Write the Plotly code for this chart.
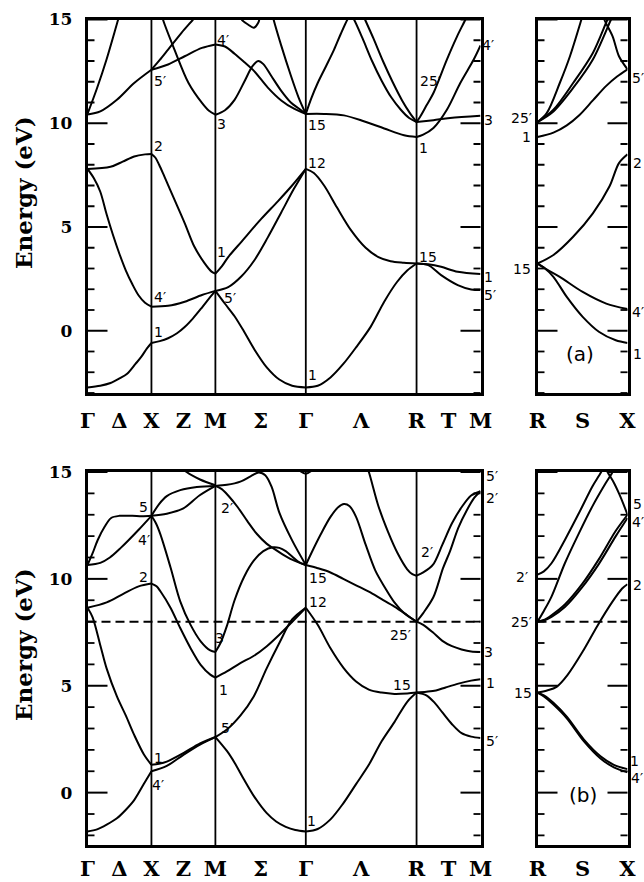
import math
import plotly.graph_objects as go

# ---------------- k-path positions (units of Gamma-X) ----------------
K_MAIN = [0.0, 1.0, 2.0, 3.414, 5.146, 6.146]          # Γ X M Γ R M
K_SIDE = [0.0, 0.707, 1.414]                          # R S X
MAIN_TICK_K = [0.0, 0.5, 1.0, 1.5, 2.0, 2.707, 3.414, 4.28, 5.146, 5.646, 6.146]
MAIN_TICK_TEXT = ["Γ", "Δ", "X", "Z", "M", "Σ", "Γ", "Λ", "R", "T", "M"]
SIDE_TICK_K = [0.0, 0.707, 1.414]
SIDE_TICK_TEXT = ["R", "S", "X"]
VLINES_K = [1.0, 2.0, 3.414, 5.146]
E_MAJOR_STEP = 5
E_MINOR_STEP = 1
E_RANGE_A = [-3.0, 15.0]
E_RANGE_B = [-2.45, 15.0]
E_FERMI_B = 8.0

# ---------------- panel (a) main bands: (k, E) ----------------
a_GX_1 = ([0, 0.2, 0.36, 0.5, 0.62, 0.75, 0.84, 0.93, 1.0], [-2.73, -2.65, -2.52, -2.3, -2.07, -1.6, -1.26, -0.85, -0.59])
a_GX_2 = ([0, 0.1, 0.2, 0.3, 0.4, 0.5, 0.6, 0.7, 0.8, 0.9, 1.0], [7.8, 7.35, 6.7, 5.6, 4.6, 3.7, 2.9, 2.25, 1.7, 1.35, 1.16])
a_GX_3 = ([0, 0.36, 0.55, 0.73, 0.9, 1.0], [7.8, 7.9, 8.15, 8.4, 8.5, 8.52])
a_GX_4 = ([0, 0.2, 0.46, 0.73, 1.0], [10.42, 10.57, 11.13, 11.94, 12.58])
a_GX_5 = ([0, 0.15, 0.3, 0.48, 0.52], [10.45, 11.7, 13.1, 15.0, 15.4])
a_XM_1 = ([1.0, 1.13, 1.26, 1.4, 1.52, 1.65, 1.79, 1.9, 2.0], [-0.59, -0.5, -0.36, -0.12, 0.18, 0.6, 1.12, 1.55, 1.92])
a_XM_2 = ([1.0, 1.26, 1.52, 1.79, 2.0], [1.16, 1.2, 1.4, 1.72, 1.92])
a_XM_3 = ([1.0, 1.06, 1.12, 1.2, 1.36, 1.52, 1.67, 1.83, 1.94, 2.0], [8.52, 8.35, 8.0, 7.45, 6.32, 5.19, 4.06, 3.26, 2.85, 2.75])
a_XM_4 = ([1.0, 1.26, 1.52, 1.79, 2.0], [12.58, 12.83, 13.23, 13.63, 13.8])
a_XM_5 = ([1.0, 1.13, 1.26, 1.47, 1.65, 1.7], [12.58, 13.05, 13.55, 14.36, 15.0, 15.2])
a_XM_6 = ([1.13, 1.18, 1.36, 1.58, 1.79, 1.9, 2.0], [15.6, 15.0, 13.55, 11.94, 10.98, 10.6, 10.41])
a_MG_1 = ([2.0, 2.15, 2.3, 2.45, 2.61, 2.8, 3.0, 3.2, 3.414], [1.92, 1.3, 0.7, -0.05, -0.9, -1.75, -2.35, -2.65, -2.73])
a_MG_2 = ([2.0, 2.2, 2.4, 2.61, 2.82, 3.03, 3.23, 3.414], [1.92, 2.1, 2.6, 3.4, 4.5, 5.7, 6.85, 7.8])
a_MG_3 = ([2.0, 2.1, 2.2, 2.41, 2.72, 2.98, 3.2, 3.414], [2.75, 3.1, 3.55, 4.3, 5.4, 6.25, 7.0, 7.8])
a_MG_4 = ([2.0, 2.15, 2.3, 2.46, 2.58, 2.67, 2.75, 2.87, 3.03, 3.18, 3.31, 3.414], [10.41, 10.63, 11.13, 12.05, 12.75, 13.0, 12.85, 12.3, 11.56, 11.0, 10.7, 10.45])
a_MG_5 = ([2.0, 2.15, 2.3, 2.45, 2.61, 2.82, 3.03, 3.23, 3.414], [13.8, 13.7, 13.35, 12.95, 12.5, 11.72, 11.1, 10.7, 10.45])
a_MG_6 = ([2.88, 2.91, 3.03, 3.18, 3.3, 3.414], [15.4, 15.0, 13.74, 12.3, 11.25, 10.45])
a_MG_7 = ([2.38, 2.41, 2.51, 2.6, 2.67, 2.7], [15.3, 15.0, 14.76, 14.6, 14.84, 15.2])
a_GR_1 = ([3.414, 3.6, 3.8, 4.0, 4.2, 4.43, 4.64, 4.84, 5.0, 5.146], [-2.73, -2.65, -2.25, -1.6, -0.8, 0.2, 1.4, 2.35, 2.9, 3.24])
a_GR_2 = ([3.414, 3.54, 3.7, 3.9, 4.12, 4.35, 4.55, 4.74, 4.95, 5.146], [7.8, 7.6, 7.0, 5.95, 4.85, 4.0, 3.55, 3.35, 3.28, 3.24])
a_GR_3 = ([3.414, 3.7, 4.01, 4.32, 4.64, 4.95, 5.146], [10.45, 10.45, 10.38, 10.1, 9.75, 9.42, 9.34])
a_GR_4 = ([3.414, 3.5, 3.6, 3.73, 3.856, 3.96, 4.065, 4.115, 4.168, 4.3, 4.45, 4.6, 4.75, 4.9, 5.03, 5.146],
          [10.45, 11.2, 11.94, 12.75, 13.55, 14.3, 15.0, 15.25, 15.0, 14.1, 13.0, 12.05, 11.25, 10.65, 10.25, 10.06])
a_GR_5 = ([4.3, 4.34, 4.47, 4.62, 4.77, 4.92, 5.04, 5.146], [15.3, 15.0, 14.1, 13.0, 12.0, 11.1, 10.5, 10.06])
a_RM_1 = ([5.146, 5.33, 5.53, 5.79, 6.146], [3.24, 3.2, 3.08, 2.84, 2.73])
a_RM_2 = ([5.146, 5.33, 5.53, 5.79, 6.0, 6.146], [3.24, 3.16, 2.68, 2.2, 1.99, 1.96])
a_RM_3 = ([5.146, 5.25, 5.41, 5.62, 5.83, 6.04, 6.146], [9.34, 9.45, 9.77, 10.65, 11.94, 13.07, 13.75])
a_RM_4 = ([5.146, 5.41, 5.67, 6.146], [10.06, 10.15, 10.25, 10.36])
a_RM_5 = ([5.146, 5.2, 5.3, 5.41, 5.62, 5.78, 5.91, 5.95], [10.06, 10.3, 10.85, 11.46, 13.07, 14.19, 15.0, 15.3])

# ---------------- panel (a) side bands (R-S-X) ----------------
as_1 = ([0, 0.25, 0.46, 0.66, 0.87, 1.08, 1.25, 1.414], [9.34, 9.55, 9.9, 10.4, 11.1, 11.8, 12.25, 12.6])
as_2 = ([0, 0.145, 0.35, 0.51, 0.69, 0.73], [10.06, 10.49, 11.94, 13.23, 15.0, 15.4])
as_3 = ([0, 0.25, 0.56, 0.87, 1.1, 1.15], [10.06, 10.65, 11.94, 13.39, 15.0, 15.3])
as_4 = ([0, 0.25, 0.56, 0.87, 1.155, 1.2], [10.06, 10.57, 11.7, 13.07, 15.0, 15.3])
as_5 = ([1.03, 1.05, 1.18, 1.28, 1.414], [15.3, 15.0, 14.19, 13.23, 12.6])
as_6 = ([0, 0.25, 0.56, 0.87, 1.13, 1.28, 1.414], [3.24, 3.65, 4.53, 5.66, 6.95, 8.08, 8.5])
as_7 = ([0, 0.15, 0.35, 0.71, 1.08, 1.414], [3.24, 2.95, 2.6, 1.87, 1.31, 1.05])
as_8 = ([0, 0.1, 0.25, 0.46, 0.71, 0.97, 1.23, 1.414], [3.24, 3.05, 2.6, 1.63, 0.67, -0.06, -0.46, -0.59])

# ---------------- panel (b) main bands ----------------
b_GX_1 = ([0, 0.15, 0.3, 0.46, 0.6, 0.73, 0.88, 1.0], [-1.82, -1.72, -1.5, -1.2, -0.8, -0.35, 0.4, 1.0])
b_GX_2 = ([0, 0.08, 0.2, 0.3, 0.46, 0.6, 0.73, 0.88, 1.0], [8.65, 8.2, 6.9, 5.8, 4.5, 3.6, 2.7, 1.8, 1.3])
b_GX_3 = ([0, 0.3, 0.56, 0.8, 1.0], [8.65, 8.9, 9.3, 9.65, 9.78])
b_GX_4 = ([0, 0.2, 0.35, 0.52, 0.8, 1.0], [10.65, 10.75, 11.0, 11.45, 12.3, 12.95])
b_GX_5 = ([0, 0.08, 0.16, 0.27, 0.37, 0.5, 0.7, 0.85, 1.0], [10.65, 11.2, 11.82, 12.45, 12.85, 12.95, 12.95, 12.93, 12.95])
b_XM_1 = ([1.0, 1.24, 1.5, 1.76, 2.0], [1.0, 1.25, 1.77, 2.25, 2.6])
b_XM_2 = ([1.0, 1.12, 1.24, 1.5, 1.76, 2.0], [1.3, 1.35, 1.45, 1.85, 2.3, 2.6])
b_XM_3 = ([1.0, 1.08, 1.14, 1.3, 1.45, 1.61, 1.77, 1.92, 2.0], [9.78, 9.65, 9.42, 8.64, 7.7, 6.77, 5.98, 5.52, 5.38])
b_XM_4 = ([1.0, 1.07, 1.14, 1.3, 1.45, 1.61, 1.77, 1.92, 2.0], [12.95, 12.6, 12.08, 10.52, 8.95, 7.86, 7.08, 6.65, 6.58])
b_XM_5 = ([1.0, 1.12, 1.24, 1.45, 1.71, 2.0], [12.95, 13.5, 13.87, 14.15, 14.3, 14.35])
b_XM_6 = ([1.0, 1.24, 1.5, 1.75, 2.0], [12.95, 13.05, 13.3, 13.9, 14.35])
b_XM_7 = ([1.45, 1.55, 1.76, 2.0], [15.3, 15.0, 14.65, 14.38])
b_MG_1 = ([2.0, 2.18, 2.3, 2.45, 2.61, 2.8, 2.95, 3.1, 3.25, 3.414], [2.6, 1.95, 1.4, 0.6, -0.2, -0.95, -1.35, -1.6, -1.75, -1.82])
b_MG_2 = ([2.0, 2.18, 2.39, 2.6, 2.8, 3.0, 3.2, 3.414], [2.6, 2.95, 3.6, 4.5, 5.8, 7.0, 8.1, 8.65])
b_MG_3 = ([2.0, 2.18, 2.39, 2.59, 2.8, 3.0, 3.21, 3.414], [5.38, 5.67, 6.06, 6.38, 6.84, 7.39, 8.02, 8.65])
b_MG_4 = ([2.0, 2.08, 2.18, 2.3, 2.45, 2.6, 2.75, 2.9, 3.0, 3.1, 3.2, 3.3, 3.414], [6.58, 7.0, 7.8, 9.0, 10.1, 10.85, 11.3, 11.48, 11.45, 11.3, 11.05, 10.8, 10.65])
b_MG_5 = ([2.0, 2.1, 2.2, 2.35, 2.5, 2.65, 2.8, 2.92, 3.05, 3.2, 3.414], [14.35, 14.2, 13.9, 13.35, 12.7, 12.1, 11.65, 11.4, 11.15, 10.9, 10.65])
b_MG_6 = ([2.0, 2.18, 2.39, 2.55, 2.68, 2.78, 2.88, 3.0, 3.2, 3.414], [14.35, 14.4, 14.55, 14.8, 14.98, 14.85, 14.3, 13.1, 11.8, 10.65])
b_MG_7 = ([3.3, 3.414, 3.52], [15.1, 14.92, 15.1])
b_GR_1 = ([3.414, 3.6, 3.8, 4.0, 4.2, 4.4, 4.6, 4.8, 5.0, 5.146], [-1.82, -1.7, -1.25, -0.5, 0.4, 1.3, 2.4, 3.3, 4.25, 4.68])
b_GR_2 = ([3.414, 3.6, 3.8, 4.0, 4.2, 4.4, 4.6, 4.8, 5.0, 5.146], [8.65, 7.85, 6.75, 5.85, 5.2, 4.82, 4.68, 4.62, 4.64, 4.68])
b_GR_3 = ([3.414, 3.6, 3.8, 4.0, 4.2, 4.4, 4.6, 4.8, 5.0, 5.146], [10.65, 10.5, 10.3, 10.0, 9.7, 9.4, 9.05, 8.7, 8.3, 8.0])
b_GR_4 = ([3.414, 3.5, 3.65, 3.8, 3.92, 4.01, 4.1, 4.2, 4.35, 4.5, 4.65, 4.8, 4.95, 5.146],
          [10.65, 11.2, 12.1, 12.9, 13.35, 13.5, 13.4, 12.9, 11.6, 10.4, 9.6, 8.9, 8.4, 8.0])
b_GR_5 = ([4.35, 4.4, 4.55, 4.7, 4.85, 5.0, 5.08, 5.146], [15.4, 15.0, 13.4, 12.2, 11.2, 10.45, 10.22, 10.15])
b_RM_1 = ([5.146, 5.25, 5.4, 5.55, 5.7, 5.85, 6.0, 6.146], [10.15, 10.3, 10.65, 11.6, 12.6, 13.35, 13.9, 14.1])
b_RM_2 = ([5.146, 5.25, 5.41, 5.56, 5.67, 5.8, 5.93, 6.05, 6.146], [8.0, 8.4, 9.15, 10.5, 11.3, 12.4, 13.2, 13.8, 14.1])
b_RM_3 = ([5.146, 5.25, 5.4, 5.55, 5.7, 5.85, 6.0, 6.146], [8.0, 7.85, 7.5, 7.1, 6.85, 6.7, 6.6, 6.58])
b_RM_4 = ([5.146, 5.3, 5.45, 5.6, 5.8, 6.0, 6.146], [4.68, 4.72, 4.78, 4.92, 5.1, 5.24, 5.3])
b_RM_5 = ([5.146, 5.3, 5.43, 5.55, 5.7, 5.85, 6.0, 6.146], [4.68, 4.55, 4.2, 3.75, 3.2, 2.78, 2.62, 2.56])

# ---------------- panel (b) side bands ----------------
bs_1 = ([0, 0.1, 0.25, 0.46, 0.73, 0.99, 1.2, 1.414], [4.68, 4.55, 4.2, 3.55, 2.48, 1.7, 1.3, 1.1])
bs_2 = ([0, 0.1, 0.25, 0.46, 0.73, 0.99, 1.2, 1.414], [4.68, 4.5, 4.12, 3.48, 2.4, 1.6, 1.18, 0.95])
bs_3 = ([0, 0.15, 0.3, 0.47, 0.71, 0.94, 1.17, 1.33, 1.414], [4.68, 4.78, 4.95, 5.5, 6.6, 7.8, 8.9, 9.55, 9.75])
bs_4 = ([0, 0.1, 0.22, 0.43, 0.7, 0.96, 1.23, 1.414], [8.0, 8.05, 8.22, 8.68, 9.6, 10.68, 12.0, 12.85])
bs_5 = ([0, 0.1, 0.22, 0.43, 0.7, 0.96, 1.23, 1.414], [8.0, 8.08, 8.3, 8.8, 9.75, 10.9, 12.25, 13.0])
bs_6 = ([0, 0.1, 0.22, 0.43, 0.65, 0.86, 1.07, 1.18, 1.22], [8.0, 8.5, 9.17, 10.73, 12.13, 13.38, 14.47, 15.0, 15.3])
bs_7 = ([0, 0.1, 0.22, 0.43, 0.65, 0.86, 0.96, 1.0, 1.03], [10.2, 10.35, 10.73, 11.82, 13.07, 14.31, 14.8, 15.0, 15.2])
bs_8 = ([1.05, 1.1, 1.2, 1.28, 1.35, 1.414], [15.3, 15.0, 14.5, 14.0, 13.5, 13.0])

# ---------------- symmetry labels: (text, k, E) ----------------
labels_a_main = [
    ("1", 1.11, -0.06), ("4′", 1.14, 1.63), ("5′", 1.13, 12.05), ("2", 1.11, 8.88),
    ("4′", 2.12, 14.03), ("3", 2.10, 9.98), ("1", 2.10, 3.81), ("5′", 2.23, 1.56),
    ("15", 3.59, 9.93), ("12", 3.59, 8.08), ("1", 3.52, -2.15),
    ("15", 5.33, 3.57), ("25′", 5.36, 12.02), ("1", 5.25, 8.8),
    ("4′", 6.27, 13.79), ("3", 6.27, 10.17), ("1", 6.27, 2.6), ("5′", 6.30, 1.71),
]
labels_a_side = [
    ("25′", -0.25, 10.25), ("1", -0.17, 9.36), ("15", -0.25, 3.0),
    ("5′", 1.585, 12.18), ("2", 1.57, 8.08), ("4′", 1.585, 0.91), ("1", 1.57, -1.1),
]
labels_b_main = [
    ("5", 0.87, 13.38), ("4′", 0.88, 11.82), ("2", 0.87, 10.1), ("1", 1.11, 1.62), ("4′", 1.11, 0.37),
    ("2′", 2.18, 13.3), ("3", 2.06, 7.24), ("1", 2.13, 4.81), ("5′", 2.18, 3.02),
    ("15", 3.61, 10.05), ("12", 3.61, 8.94), ("1", 3.51, -1.34),
    ("2′", 5.31, 11.28), ("25′", 4.89, 7.38), ("15", 4.92, 5.05),
    ("5′", 6.32, 14.8), ("2′", 6.32, 13.8), ("3", 6.27, 6.6), ("1", 6.30, 5.13), ("5′", 6.32, 2.4),
]
labels_b_side = [
    ("2′", -0.25, 10.1), ("25′", -0.25, 8.0), ("15", -0.23, 4.66),
    ("5", 1.565, 13.5), ("4′", 1.58, 12.68), ("2", 1.565, 9.72), ("1", 1.53, 1.48), ("4′", 1.56, 0.68),
]
panel_tags = [("(a)", 0.67, -1.1), ("(b)", 0.715, -0.09)]

bands_a_main = [a_GX_1, a_GX_2, a_GX_3, a_GX_4, a_GX_5, a_XM_1, a_XM_2, a_XM_3, a_XM_4, a_XM_5, a_XM_6,
                a_MG_1, a_MG_2, a_MG_3, a_MG_4, a_MG_5, a_MG_6, a_MG_7,
                a_GR_1, a_GR_2, a_GR_3, a_GR_4, a_GR_5, a_RM_1, a_RM_2, a_RM_3, a_RM_4, a_RM_5]
bands_a_side = [as_1, as_2, as_3, as_4, as_5, as_6, as_7, as_8]
bands_b_main = [b_GX_1, b_GX_2, b_GX_3, b_GX_4, b_GX_5, b_XM_1, b_XM_2, b_XM_3, b_XM_4, b_XM_5, b_XM_6, b_XM_7,
                b_MG_1, b_MG_2, b_MG_3, b_MG_4, b_MG_5, b_MG_6, b_MG_7,
                b_GR_1, b_GR_2, b_GR_3, b_GR_4, b_GR_5, b_RM_1, b_RM_2, b_RM_3, b_RM_4, b_RM_5]
bands_b_side = [bs_1, bs_2, bs_3, bs_4, bs_5, bs_6, bs_7, bs_8]

# ---------------- figure ----------------
W, H = 644, 882
fig = go.Figure()

def add_bands(bands, xa, ya):
    for k, e in bands:
        fig.add_trace(go.Scatter(x=k, y=e, mode="lines", xaxis=xa, yaxis=ya,
                                 line=dict(color="black", width=2, shape="spline", smoothing=0.9),
                                 showlegend=False, hoverinfo="skip"))

add_bands(bands_a_main, "x", "y")
add_bands(bands_a_side, "x2", "y2")
add_bands(bands_b_main, "x3", "y3")
add_bands(bands_b_side, "x4", "y4")

# dashed reference line in panel (b)
for xa, ya, ks in (("x3", "y3", K_MAIN), ("x4", "y4", K_SIDE)):
    fig.add_trace(go.Scatter(x=[ks[0], ks[-1]], y=[E_FERMI_B, E_FERMI_B], mode="lines", xaxis=xa, yaxis=ya,
                             line=dict(color="black", width=2, dash="9px,5px"), showlegend=False, hoverinfo="skip"))

# vertical symmetry-point lines
for xr, yr in (("x", "y"), ("x3", "y3")):
    for kv in VLINES_K:
        fig.add_shape(type="line", xref=xr, yref=yr + " domain", x0=kv, x1=kv, y0=0, y1=1,
                      line=dict(color="black", width=1.8))

# inward energy ticks on both sides of every frame (major every 5 eV, minor every 1 eV)
for xa, ya, rng in (("x", "y", E_RANGE_A), ("x2", "y2", E_RANGE_A), ("x3", "y3", E_RANGE_B), ("x4", "y4", E_RANGE_B)):
    for v in range(math.ceil(rng[0]), math.floor(rng[1]) + 1, E_MINOR_STEP):
        major = (v % E_MAJOR_STEP == 0)
        L = 20 if major else 7
        for anchor, sign in ((0, 1), (1, -1)):
            fig.add_shape(type="line", xref=xa + " domain", yref=ya, xsizemode="pixel", xanchor=anchor,
                          x0=0, x1=sign * L, y0=v, y1=v,
                          line=dict(color="black", width=2 if major else 1.8))

px = lambda v: v / W
py = lambda v: 1 - v / H
MAIN_DOM = [px(87.5), px(480.5)]
SIDE_DOM = [px(537.5), px(627.5)]
TOP_DOM = [py(393), py(19.5)]
BOT_DOM = [py(845), py(472)]

tickfont_num = dict(family="DejaVu Serif", size=17, color="black", weight="bold")
tickfont_k = dict(family="DejaVu Serif", size=21, color="black", weight="bold")

def yax(dom, rng, anchor, labels):
    return dict(domain=dom, range=rng, anchor=anchor, tickmode="linear", tick0=0, dtick=E_MAJOR_STEP,
                showticklabels=labels, tickfont=tickfont_num, ticks="",
                showline=True, linewidth=2.5, linecolor="black", mirror=True,
                showgrid=False, zeroline=False, ticklabelstandoff=9, automargin=False, fixedrange=True)

def xax(dom, rng, anchor, vals, text, standoff):
    return dict(domain=dom, range=rng, anchor=anchor, tickmode="array", tickvals=vals, ticktext=text,
                tickfont=tickfont_k, ticks="", showline=True, linewidth=2.5, linecolor="black", mirror=True,
                showgrid=False, zeroline=False, ticklabelstandoff=standoff, automargin=False, fixedrange=True)

fig.update_layout(
    width=W, height=H, margin=dict(l=0, r=0, t=0, b=0, pad=0, autoexpand=False),
    paper_bgcolor="white", plot_bgcolor="white", showlegend=False,
    xaxis=xax(MAIN_DOM, [K_MAIN[0], K_MAIN[-1]], "y", MAIN_TICK_K, MAIN_TICK_TEXT, 7),
    yaxis=yax(TOP_DOM, E_RANGE_A, "x", True),
    xaxis2=xax(SIDE_DOM, [K_SIDE[0], K_SIDE[-1]], "y2", SIDE_TICK_K, SIDE_TICK_TEXT, 7),
    yaxis2=yax(TOP_DOM, E_RANGE_A, "x2", False),
    xaxis3=xax(MAIN_DOM, [K_MAIN[0], K_MAIN[-1]], "y3", MAIN_TICK_K, MAIN_TICK_TEXT, 3),
    yaxis3=yax(BOT_DOM, E_RANGE_B, "x3", True),
    xaxis4=xax(SIDE_DOM, [K_SIDE[0], K_SIDE[-1]], "y4", SIDE_TICK_K, SIDE_TICK_TEXT, 3),
    yaxis4=yax(BOT_DOM, E_RANGE_B, "x4", False),
)

lab_font = dict(family="DejaVu Sans", size=14, color="black")
anns = []
for group, xa, ya, ks in ((labels_a_main, "x", "y", K_MAIN), (labels_a_side, "x2", "y2", K_SIDE),
                          (labels_b_main, "x3", "y3", K_MAIN), (labels_b_side, "x4", "y4", K_SIDE)):
    for t, k, e in group:
        anns.append(dict(text=t, x=(k - ks[0]) / (ks[-1] - ks[0]), y=e, xref=xa + " domain", yref=ya,
                         showarrow=False, font=lab_font, xanchor="center", yanchor="middle"))
for (t, k, e), xa, ya in zip(panel_tags, ("x2", "x4"), ("y2", "y4")):
    anns.append(dict(text=t, x=(k - K_SIDE[0]) / (K_SIDE[-1] - K_SIDE[0]), y=e, xref=xa + " domain", yref=ya,
                     showarrow=False, font=dict(family="DejaVu Sans", size=20, color="black"),
                     xanchor="center", yanchor="middle"))
for yc in (py(193), py(645)):
    anns.append(dict(text="Energy (eV)", x=px(23), y=yc, xref="paper", yref="paper", showarrow=False, textangle=-90,
                     font=dict(family="DejaVu Serif", size=23, color="black", weight="bold"),
                     xanchor="center", yanchor="middle"))
fig.update_layout(annotations=anns)

fig.write_html("out.html", config={"displayModeBar": False},
               post_script="document.body.style.margin='0';document.body.style.padding='0';")
